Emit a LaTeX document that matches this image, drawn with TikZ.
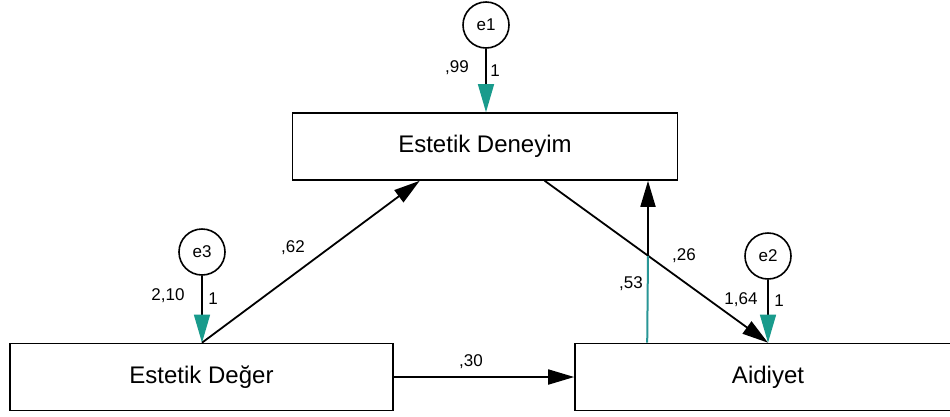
\documentclass[tikz,border=0pt]{standalone}
\usepackage{fontspec}
\setmainfont{Liberation Sans}
\usetikzlibrary{arrows.meta,calc}
\definecolor{tealhead}{RGB}{25,155,140}
\definecolor{tealline}{RGB}{40,150,150}
\tikzset{
  varbox/.style={draw=black,line width=1.6pt,rectangle,minimum width=#1,minimum height=67pt,inner sep=0pt,font=\fontsize{24}{27}\selectfont},
  errc/.style={draw=black,line width=1.6pt,circle,minimum size=46pt,inner sep=0pt,font=\fontsize{17}{19}\selectfont},
  lbl/.style={font=\fontsize{17}{19}\selectfont,inner sep=0pt},
  mainarr/.style={line width=1.8pt,-{Triangle[length=26pt,width=15pt]}},
  errarr/.style={line width=1.4pt,-{Triangle[length=28pt,width=16pt,fill=tealhead,color=tealhead]}}
}
\begin{document}
\begin{tikzpicture}[x=1pt,y=-1pt]
\useasboundingbox (0,0) rectangle (950,416);
\fill[white] (0,0) rectangle (950,416);
% boxes
\node[varbox=385pt] (deneyim) at (485,146.5) {Estetik Deneyim};
\node[varbox=383pt] (deger) at (201.5,377) {Estetik Değer};
\node[varbox=386pt] (aidiyet) at (768,377) {Aidiyet};
% error circles
\node[errc] (e1) at (486,25) {e1};
\node[errc] (e3) at (202,252) {e3};
\node[errc] (e2) at (768,256) {e2};
% error arrows
\draw[errarr] (e1.south) -- (e1.south |- deneyim.north);
\draw[errarr] (e3.south) -- (e3.south |- deger.north);
\draw[errarr] (e2.south) -- (aidiyet.north);
% structural arrows
\coordinate (dgtop) at (e3.south |- deger.north);
\draw[mainarr] (dgtop) -- ([xshift=128pt]deneyim.south west);
\draw[mainarr] ([xshift=253pt]deneyim.south west) -- (aidiyet.north);
\draw[mainarr] (deger.east) -- (aidiyet.west);
\coordinate (x53) at (648,255.5);
\draw[line width=2pt,tealline] ([xshift=73pt]aidiyet.north west) -- (x53);
\draw[mainarr] (x53) -- (x53 |- deneyim.south);
% labels
\node[lbl] (l99) at (457,68) {,99};
\node[lbl] (l1a) at (495,71) {1};
\node[lbl] (l210) at (168,296) {2,10};
\node[lbl] (l1b) at (213,299) {1};
\node[lbl] (l164) at (741,300) {1,64};
\node[lbl] (l1c) at (779,301) {1};
\node[lbl] (l62) at (293,248) {,62};
\node[lbl] (l26) at (684,256) {,26};
\node[lbl] (l53) at (631,284) {,53};
\node[lbl] (l30) at (471,362) {,30};
\end{tikzpicture}
\end{document}
